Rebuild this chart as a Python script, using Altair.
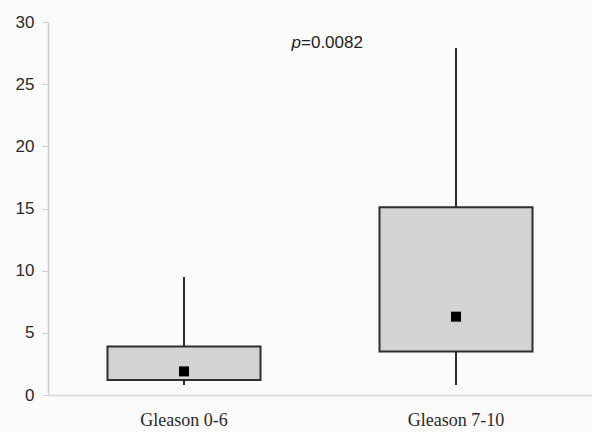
import altair as alt
import pandas as pd

# Box summary per Gleason group
categories = ["Gleason 0-6", "Gleason 7-10"]
whisker_low = [0.8, 0.8]
box_low = [1.2, 3.5]
box_high = [3.9, 15.1]
whisker_high = [9.5, 27.9]
median = [1.9, 6.3]

df = pd.DataFrame({
    "group": categories,
    "wlo": whisker_low,
    "q1": box_low,
    "q3": box_high,
    "whi": whisker_high,
    "med": median,
})

x_enc = alt.X(
    "group:N",
    sort=categories,
    title=None,
    scale=alt.Scale(paddingInner=0, paddingOuter=0),
    axis=alt.Axis(
        labelAngle=0,
        labelFont="Liberation Serif",
        labelFontSize=18,
        labelColor="#2a2a2a",
        labelPadding=16,
        ticks=False,
        domainColor="#d6d6d6",
        domainWidth=1.5,
    ),
)
y_scale = alt.Scale(domain=[0, 30], nice=False)
y_axis = alt.Axis(
    values=[0, 5, 10, 15, 20, 25, 30],
    labelFont="Liberation Sans",
    labelFontSize=17,
    labelColor="#2a2a2a",
    labelPadding=8,
    tickSize=6,
    tickColor="#cfcfcf",
    domainColor="#cfcfcf",
    domainWidth=1.5,
    grid=False,
)

base = alt.Chart(df)

whiskers = base.mark_rule(color="#2b2b2b", strokeWidth=2).encode(
    x=x_enc,
    y=alt.Y("wlo:Q", scale=y_scale, axis=y_axis, title=None),
    y2="whi:Q",
)

boxes = base.mark_bar(
    size=153, color="#d3d3d3", stroke="#2e2e2e", strokeWidth=2
).encode(
    x=x_enc,
    y=alt.Y("q1:Q", scale=y_scale, axis=y_axis, title=None),
    y2="q3:Q",
)

medians = base.mark_square(size=100, color="#000000", opacity=1).encode(
    x=x_enc,
    y=alt.Y("med:Q", scale=y_scale, axis=y_axis, title=None),
)

p_label = alt.Chart(pd.DataFrame({"t": ["p"]})).mark_text(
    font="Liberation Sans", fontSize=17, fontStyle="italic",
    align="right", baseline="alphabetic", color="#222222",
).encode(text="t:N", x=alt.value(253), y=alt.value(26))

p_value = alt.Chart(pd.DataFrame({"t": ["=0.0082"]})).mark_text(
    font="Liberation Sans", fontSize=17,
    align="left", baseline="alphabetic", color="#222222",
).encode(text="t:N", x=alt.value(253), y=alt.value(26))

chart = (
    alt.layer(whiskers, boxes, medians, p_label, p_value)
    .properties(
        width=544,
        height=373,
        autosize=alt.AutoSizeParams(type="none"),
        padding={"left": 48, "top": 22, "right": 0, "bottom": 37},
        background="#fbfbfb",
    )
    .configure_view(stroke=None)
)

chart.save("out.html", embed_options={"renderer": "svg", "actions": False})
